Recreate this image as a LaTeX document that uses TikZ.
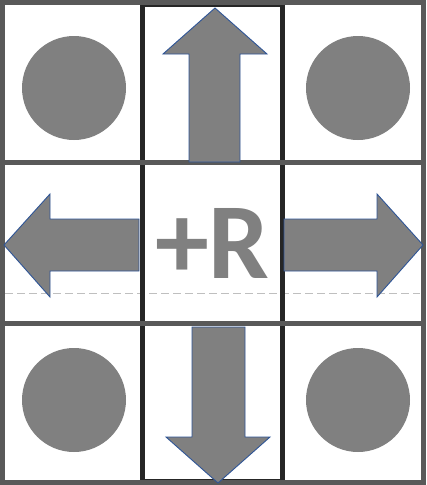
\documentclass[tikz,border=0pt]{standalone}
\usepackage{fontspec}
\newfontfamily\labelfont{Carlito}
\definecolor{gridgray}{HTML}{595959}
\definecolor{coldark}{HTML}{262626}
\definecolor{shapegray}{HTML}{808080}
\definecolor{edgeblue}{HTML}{2F5597}
\definecolor{dashgray}{HTML}{BFBFBF}

\begin{document}
\begin{tikzpicture}[x=1pt,y=-1pt,
 gridline/.style={draw=gridgray,line width=5pt},
 colbox/.style={draw=coldark,line width=5pt},
 blockarrow/.style={fill=shapegray,draw=edgeblue,line width=0.9pt,line join=miter},
 dot/.style={circle,fill=shapegray,minimum size=104pt,inner sep=0pt},
 guide/.style={draw=dashgray,line width=0.8pt,dash pattern=on 8pt off 4pt}]
\useasboundingbox (0,0) rectangle (427,485);
\fill[white] (0,0) rectangle (427,485);
% dashed guide line
\draw[guide] (5,293) -- (420,293);
% middle column and grid
\draw[colbox] (142.5,4.5) rectangle (282.5,481.5);
\draw[gridline] (2.5,2.5) rectangle (423,482);
\draw[gridline] (2.5,162) -- (423,162);
\draw[gridline] (2.5,323) -- (423,323);
\draw[gridline] (2.5,2.5) -- (142.5,2.5) (282.5,2.5) -- (423,2.5);
% corner dots
\node[dot] (tl) at (74,88) {};
\node[dot] (tr) at (358,88) {};
\node[dot] (bl) at (74,400) {};
\node[dot] (br) at (358,400) {};
% block arrows
\draw[blockarrow] (189,162) -- (189,54) -- (163,54) -- (215,8) -- (267,54) -- (240,54) -- (240,162) -- cycle;
\draw[blockarrow] (192,327) -- (192,437) -- (166,437) -- (218,483) -- (270,437) -- (245,437) -- (245,327) -- cycle;
\draw[blockarrow] (139,219) -- (50,219) -- (50,194) -- (4,245) -- (50,297) -- (50,271) -- (139,271) -- cycle;
\draw[blockarrow] (284,219) -- (377,219) -- (377,194) -- (423,245) -- (377,297) -- (377,271) -- (284,271) -- cycle;
% centre label
\node[text=shapegray,font=\labelfont\bfseries\fontsize{108}{108}\selectfont,inner sep=0pt] (plusr) at (212.5,243.5) {+R};
\end{tikzpicture}
\end{document}
